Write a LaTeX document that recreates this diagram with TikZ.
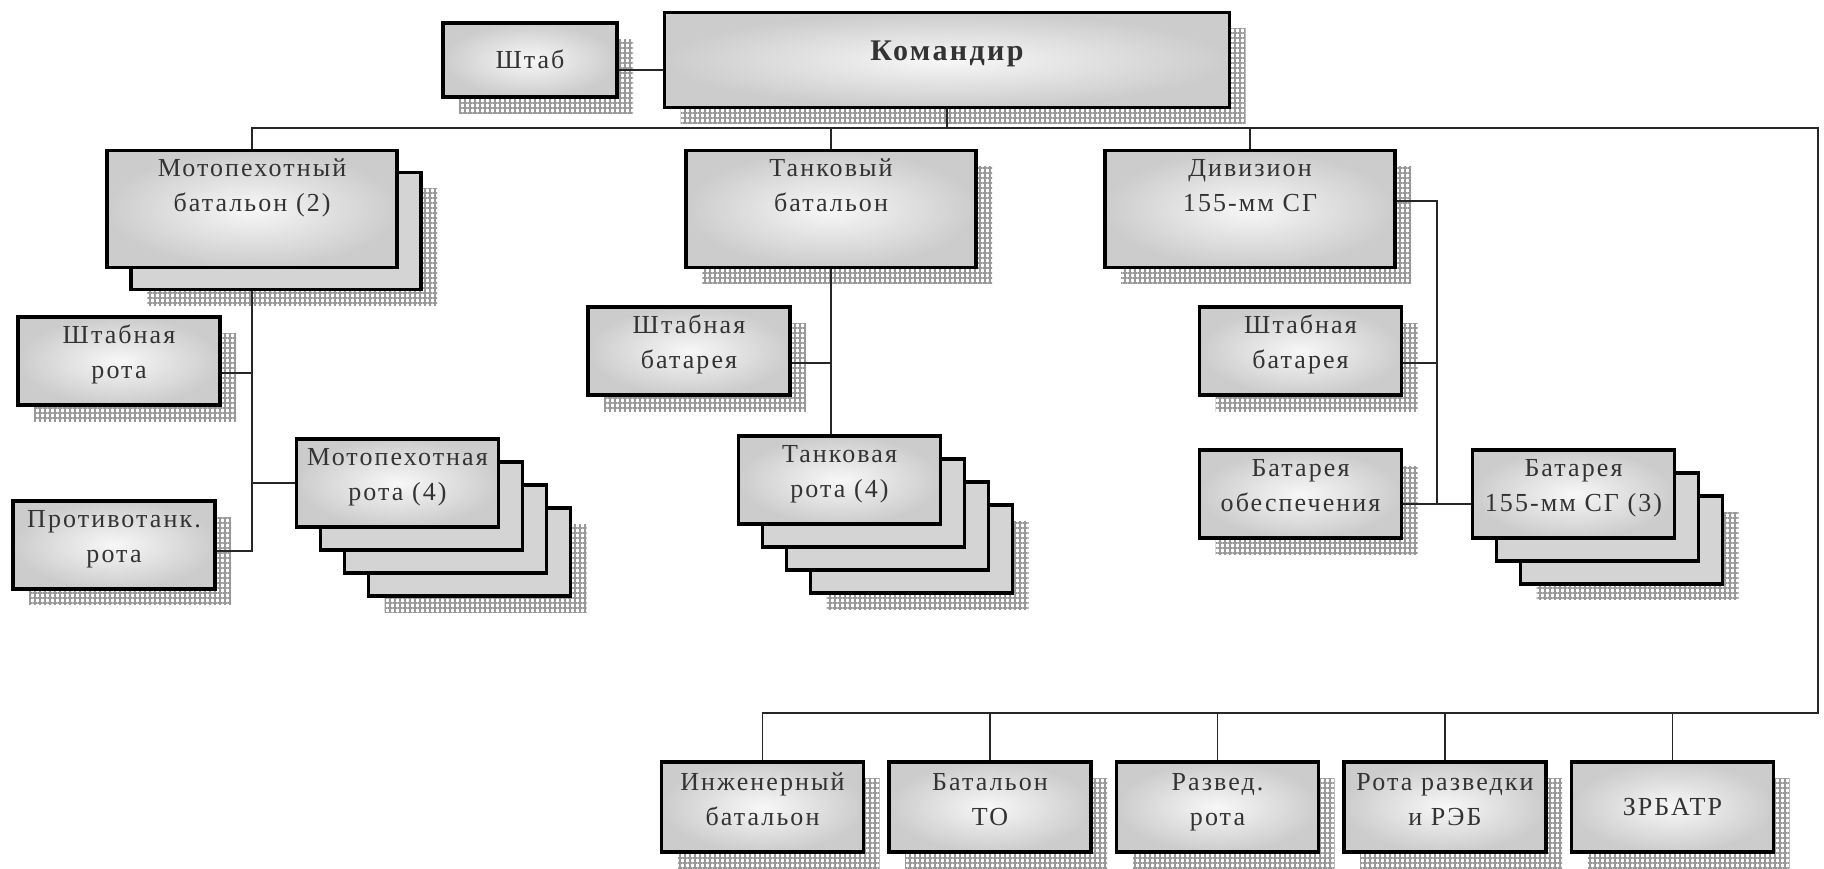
\documentclass[tikz,border=0pt]{standalone}
\usepackage{fontspec}
\setmainfont{Liberation Serif}[LetterSpace=8]
\usetikzlibrary{positioning,calc,shadows,patterns.meta}

\begin{document}
\begin{tikzpicture}[
  x=1pt, y=-1pt,
  font=\fontsize{26}{35}\selectfont,
  conn/.style={line width=1.8pt, black!85},
  plain/.style={rectangle, draw=black, line width=3.5pt, inner sep=0pt,
                inner color=gray!6, outer color=gray!40, text=black!80, align=center},
  backbox/.style={rectangle, draw=black, line width=3.5pt, inner sep=0pt, fill=gray!34},
  shadowed/.style={general shadow={shadow xshift=16pt, shadow yshift=-16pt, draw=none,
                   fill=gray!38, opacity=1,
                   pattern={Hatch[distance=5pt, line width=1.2pt]}, pattern color=gray!80}},
  box/.style={plain, shadowed},
  bigsize/.style={text width=290pt, text height=26pt, text depth=91pt},
  smallsize/.style={text width=202pt, text height=26pt, text depth=62pt},
  botsize/.style={smallsize, text height=28pt, text depth=62pt},
]
\useasboundingbox (0,0) rectangle (1824,868);

% command
\node[box, text width=565pt, text height=48pt, text depth=47pt,
      font=\bfseries\fontsize{30}{36}\selectfont] (kom) at (947,60) {Командир};
\node[box, text width=174pt, text height=45pt, text depth=29pt] (shtab) at (530,60) {Штаб};

% battalions
\node[backbox, bigsize, shadowed] (mbnb) at (276,231) {};
\node[plain, bigsize] (mbn) at (252,209) {Мотопехотный\\батальон (2)};
\node[box, bigsize] (tbn) at (831,209) {Танковый\\батальон};
\node[box, bigsize] (div) at (1250,209) {Дивизион\\155-мм СГ};

% motor rifle battalion
\node[box, smallsize] (shr) at (119,361) {Штабная\\рота};
\node[box, smallsize] (ptr) at (114,545) {Противотанк.\\рота};
\foreach \k/\s in {3/shadowed,2/,1/}
  \node[backbox, smallsize, \s] at (397.5+24*\k, 483+23*\k) {};
\node[plain, smallsize] (mpr) at (397.5,483) {Мотопехотная\\рота (4)};

% tank battalion
\node[box, smallsize] (tshb) at (689,351) {Штабная\\батарея};
\foreach \k/\s in {3/shadowed,2/,1/}
  \node[backbox, smallsize, \s] at (839.5+24*\k, 480+23*\k) {};
\node[plain, smallsize] (tr) at (839.5,480) {Танковая\\рота (4)};

% artillery
\node[box, smallsize] (dshb) at (1300.5,351) {Штабная\\батарея};
\node[box, smallsize] (dob) at (1300.5,494) {Батарея\\обеспечения};
\foreach \k/\s in {2/shadowed,1/}
  \node[backbox, smallsize, \s] at (1573.5+24*\k, 494+23*\k) {};
\node[plain, smallsize] (bat) at (1573.5,494) {Батарея\\155-мм СГ (3)};

% support units
\node[box, botsize] (eng) at (762.5,807) {Инженерный\\батальон};
\node[box, botsize, right=22pt of eng] (bto) {Батальон\\ТО};
\node[box, botsize, right=22pt of bto] (razv) {Развед.\\рота};
\node[box, botsize, right=22pt of razv] (rreb) {Рота разведки\\и РЭБ};
\node[box, botsize, text height=53pt, text depth=37pt, right=22pt of rreb] (zrb) {ЗРБАТР};

% lines
\coordinate (busR) at (1818,128);
\coordinate (busB) at (1818,713);
\draw[conn] ([yshift=-10pt]shtab.east) -- ([yshift=-10pt]shtab.east -| kom.west);
\draw[conn] (mbn.north) |- (busR) -- (busB) -| (eng.north);
\draw[conn] (kom.south) -- (kom.south |- busR);
\draw[conn] (tbn.north) -- (tbn.north |- busR);
\draw[conn] (div.north) -- (div.north |- busR);
\foreach \n in {bto,razv,rreb,zrb}
  \draw[conn] (\n.north) -- (\n.north |- busB);

\draw[conn] (mbn.south |- mbnb.south) |- ([yshift=-6pt]ptr.east);
\draw[conn] ([yshift=-12pt]shr.east) -- ([yshift=-12pt]shr.east -| mbn.south);
\draw[conn] (mpr.west) -- (mpr.west -| mbn.south);

\draw[conn] (tbn.south) -- (tbn.south |- tr.north);
\draw[conn] ([yshift=-12pt]tshb.east) -- ([yshift=-12pt]tshb.east -| tbn.south);

\coordinate (dv) at ($(dob.east)!.5!(bat.west)$);
\draw[conn] ([yshift=8pt]div.east) -| ([yshift=-10pt]dv);
\draw[conn] ([yshift=-10pt]dob.east) -- ([yshift=-10pt]dob.east -| bat.west);
\draw[conn] ([yshift=-12pt]dshb.east) -- ([yshift=-12pt]dshb.east -| dv);
\end{tikzpicture}
\end{document}
